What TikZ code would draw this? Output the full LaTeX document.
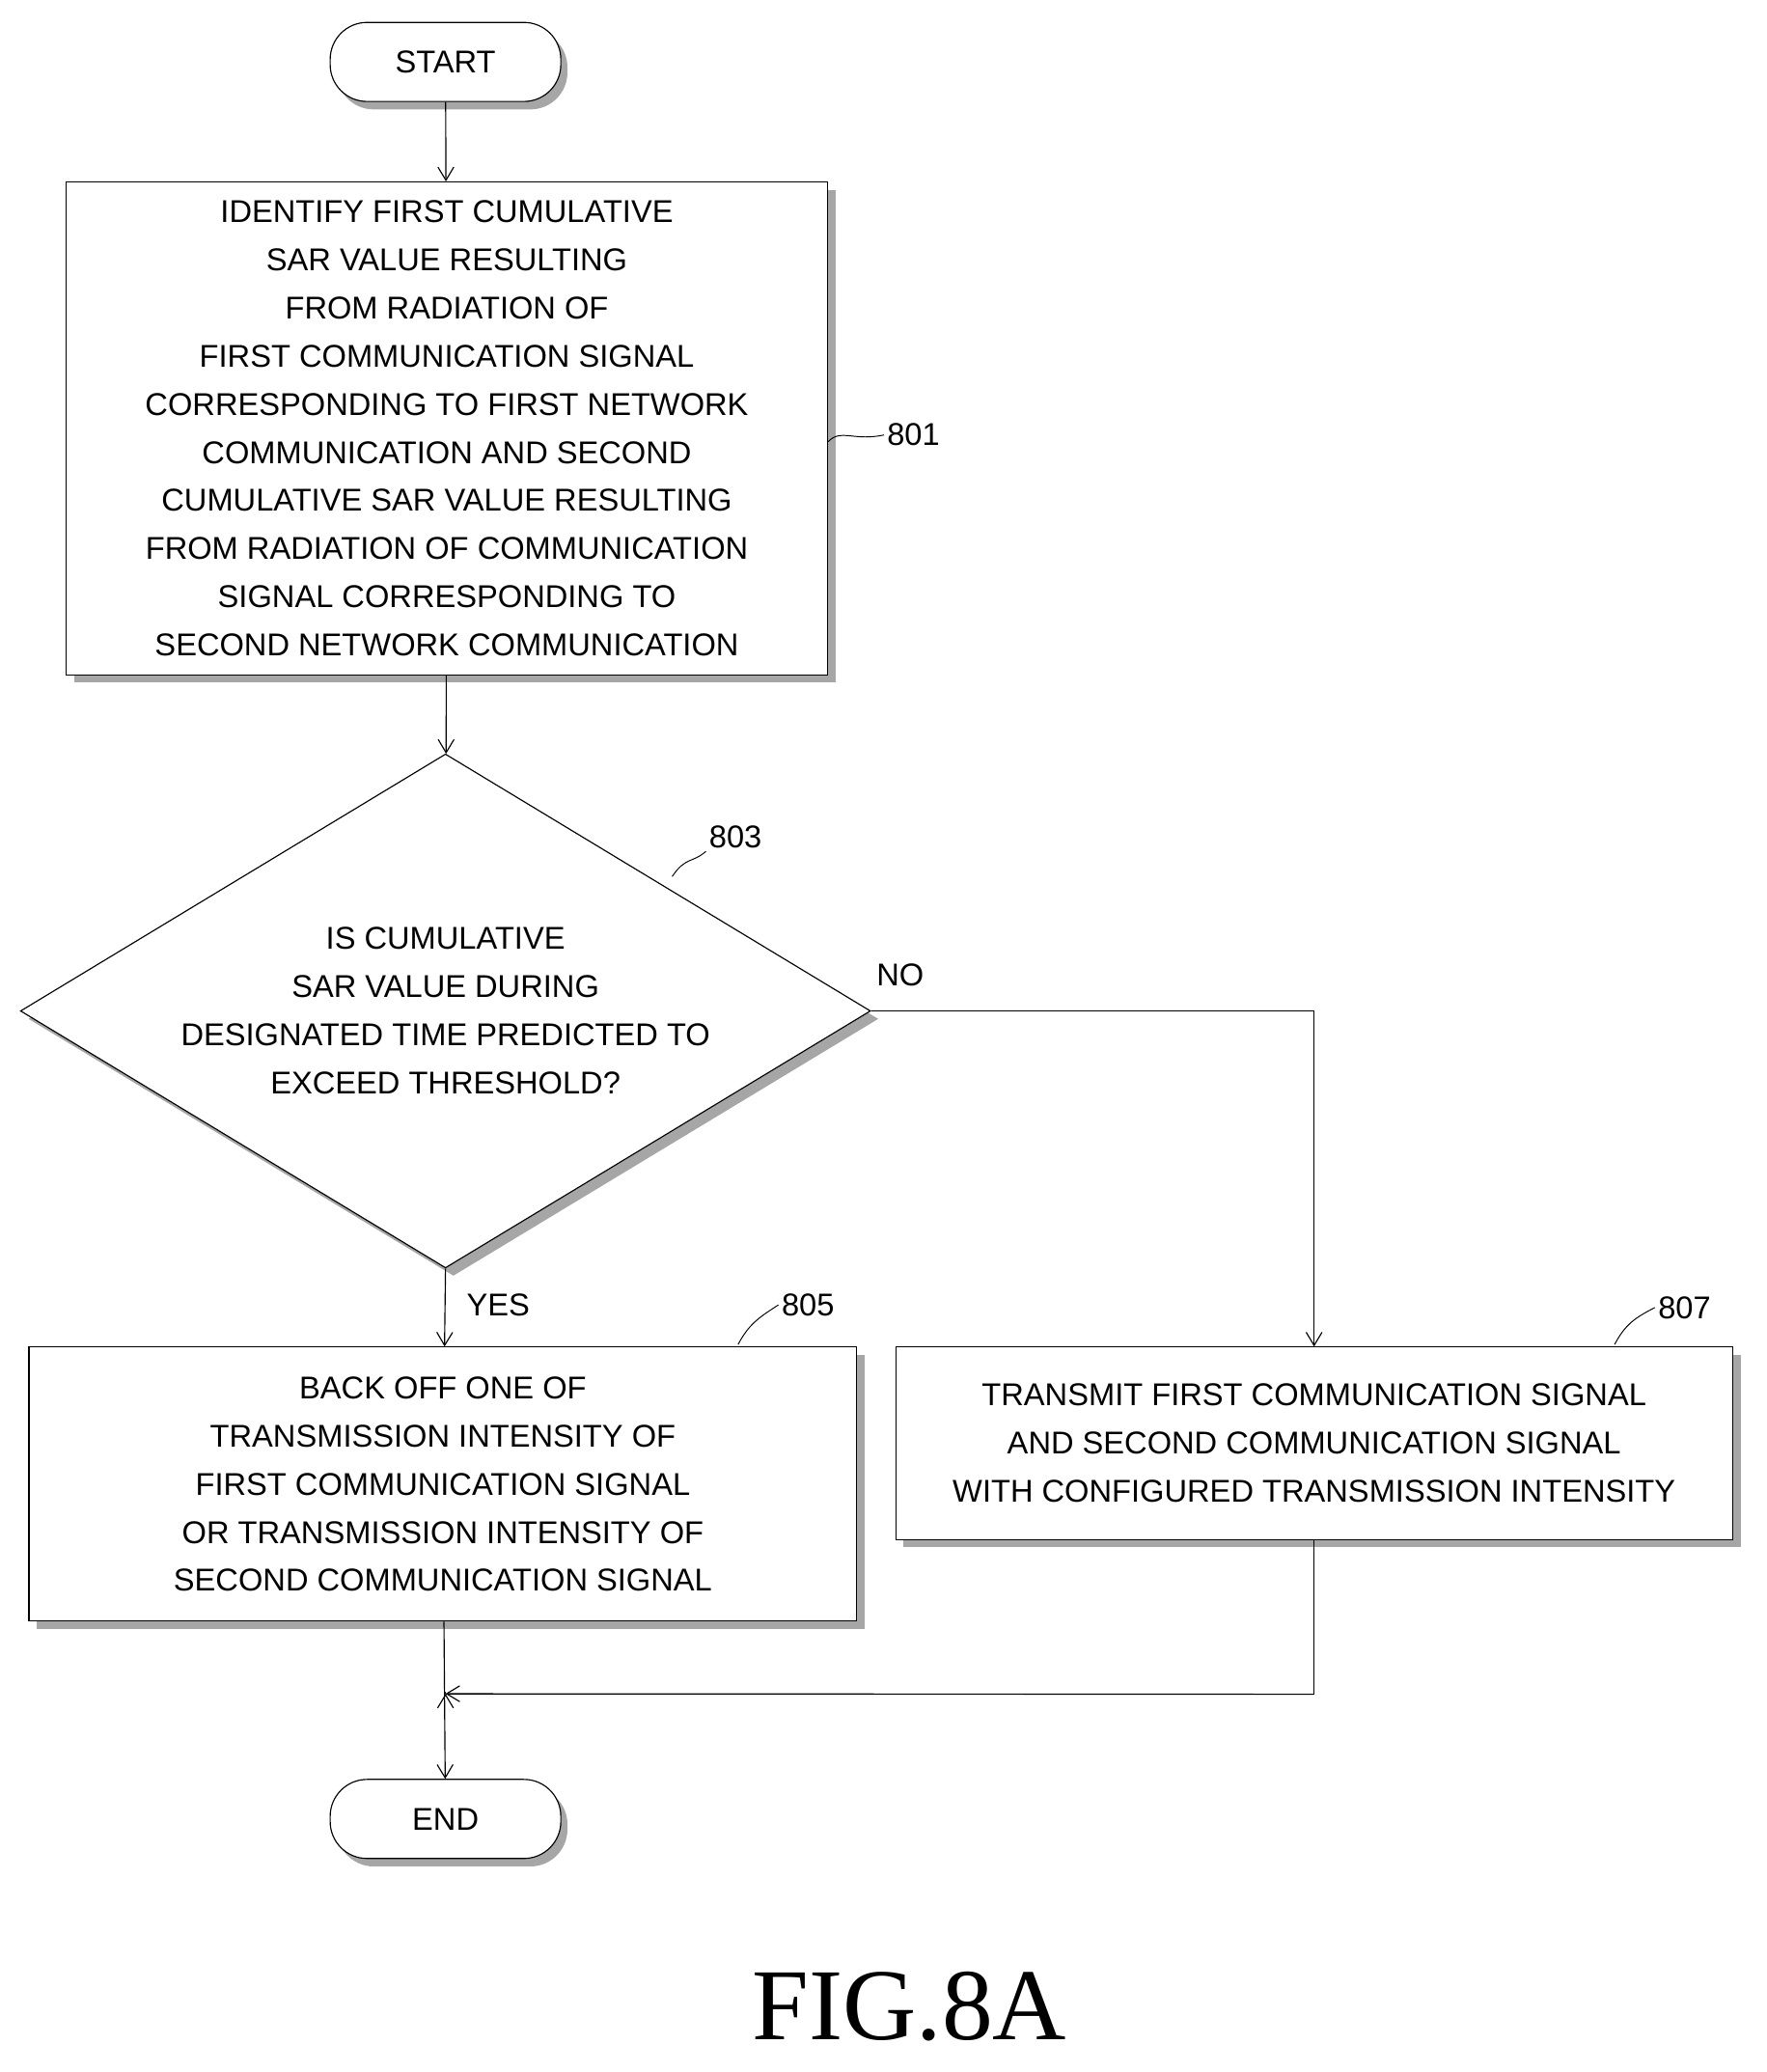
\documentclass[tikz,border=0pt]{standalone}
\usepackage{fontspec}
\setmainfont{Liberation Sans}
\newfontfamily\figfont{Liberation Serif}
\usetikzlibrary{shapes.geometric,shadows,arrows.meta}
\begin{document}
\begin{tikzpicture}[x=0.05cm,y=-0.05cm]
    \tikzstyle{txt}=[font=\fontsize{34}{52}\selectfont,align=center]
    \tikzstyle{term}=[txt,draw=black,line width=1.2pt,rounded corners=1.4cm,minimum width=8.75cm,minimum height=3cm,fill=white,drop shadow={shadow xshift=0.25cm,shadow yshift=-0.3cm,fill=gray!70,opacity=1}]
    \tikzstyle{proc}=[txt,draw=black,line width=1.2pt,fill=white,drop shadow={shadow xshift=0.3cm,shadow yshift=-0.3cm,fill=gray!70,opacity=1}]
    \tikzstyle{ref}=[txt]
    \tikzstyle{fwd}=[draw=black,line width=1.2pt,-{Straight Barb[length=0.5cm,width=0.6cm]}]
    \tikzstyle{lead}=[draw=black,line width=1pt]

    \useasboundingbox (0,0) rectangle (1340,1572);

    \node[term] (start) at (338,47) {START};
    \node[proc,minimum width=28.9cm,minimum height=18.7cm] (s801) at (339,325)
        {IDENTIFY FIRST CUMULATIVE\\SAR VALUE RESULTING\\FROM RADIATION OF\\FIRST COMMUNICATION SIGNAL\\CORRESPONDING TO FIRST NETWORK\\COMMUNICATION AND SECOND\\CUMULATIVE SAR VALUE RESULTING\\FROM RADIATION OF COMMUNICATION\\SIGNAL CORRESPONDING TO\\SECOND NETWORK COMMUNICATION};
    \node[diamond,draw=black,line width=1.2pt,fill=white,aspect=1.66,minimum width=32.25cm,minimum height=19.5cm,inner sep=0pt,drop shadow={shadow xshift=0.3cm,shadow yshift=-0.3cm,fill=gray!70,opacity=1}] (s803) at (338,767) {};
    \node[txt] at (s803) {IS CUMULATIVE\\SAR VALUE DURING\\DESIGNATED TIME PREDICTED TO\\EXCEED THRESHOLD?};
    \node[proc,minimum width=31.4cm,minimum height=10.4cm] (s805) at (336,1126)
        {BACK OFF ONE OF\\TRANSMISSION INTENSITY OF\\FIRST COMMUNICATION SIGNAL\\OR TRANSMISSION INTENSITY OF\\SECOND COMMUNICATION SIGNAL};
    \node[proc,minimum width=31.75cm,minimum height=7.3cm] (s807) at (997,1095)
        {TRANSMIT FIRST COMMUNICATION SIGNAL\\AND SECOND COMMUNICATION SIGNAL\\WITH CONFIGURED TRANSMISSION INTENSITY};
    \node[term] (end) at (338,1380) {END};

    \node[ref] (l801) at (693,330) {801};
    \node[ref] (l803) at (558,635) {803};
    \node[ref] (l805) at (613,990) {805};
    \node[ref] (l807) at (1278,992) {807};
    \node[txt] (no) at (683,740) {NO};
    \node[txt] (yes) at (378,990) {YES};
    \node[font=\figfont\fontsize{110}{120}\selectfont] (fig) at (690,1522) {FIG.8A};

    \coordinate (join) at (338,1285);

    \draw [fwd] (start) -- (s801);
    \draw [fwd] (s801) -- (s803);
    \draw [fwd] (s803.south) -- (s805);
    \draw [fwd] (s803.east) -| (s807);
    \draw [fwd] (s805) -- (end);
    \draw [lead] (s807.south) |- (join);
    \draw [fwd] (join) -- ++(0,0);
    \draw [fwd] (s807.south) ++(0,117) -- (join);

    \draw [lead] (s801.east |- l801.west) ++(0,5) .. controls (638,325) and (648,335) .. (l801.west);
    \draw [lead] (510,665) .. controls (520,650) and (525,655) .. (l803.south west);
    \draw [lead] (560,1020) .. controls (568,1005) and (575,1000) .. (l805.west);
    \draw [lead] (1225,1020) .. controls (1233,1005) and (1240,1000) .. (l807.west);
\end{tikzpicture}
\end{document}
